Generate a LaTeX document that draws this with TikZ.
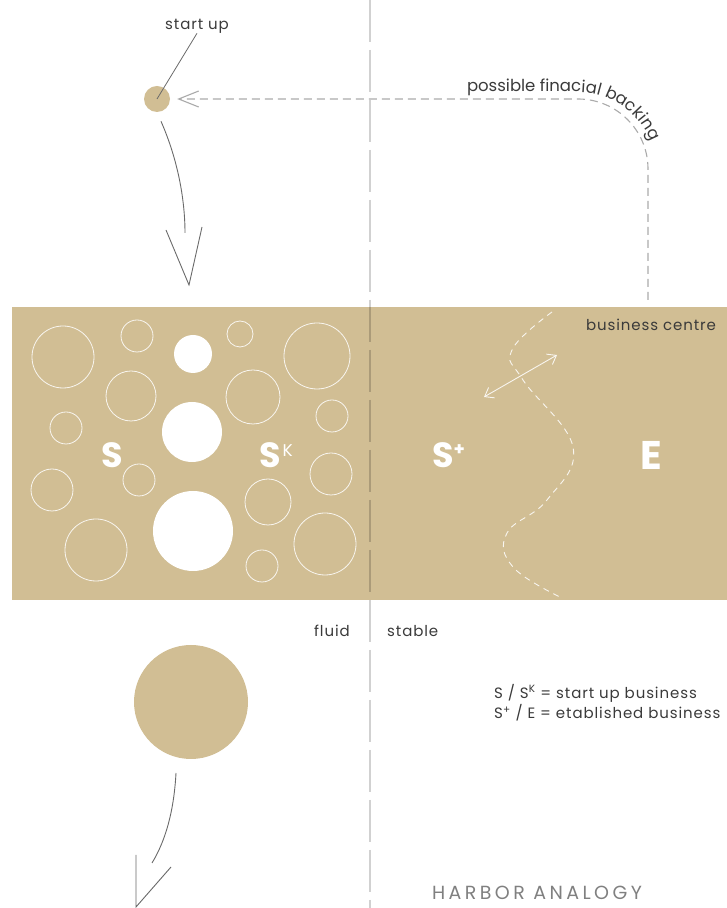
\documentclass[tikz,border=0pt]{standalone}
\usepackage{fontspec}
\setmainfont{Poppins}
\usetikzlibrary{arrows.meta,decorations.text}
\definecolor{tan}{HTML}{D1BE94}
\definecolor{ink}{HTML}{3A3A3A}
\definecolor{dashgray}{HTML}{ABABAB}
\definecolor{arrowgray}{HTML}{6A6A6A}
\begin{document}
\begin{tikzpicture}[x=1pt,y=1pt,
  ring/.style={draw=white,draw opacity=0.85,line width=0.8pt,fill=none},
  blob/.style={fill=white},
  lbl/.style={text=ink,font=\fontsize{15}{17}\selectfont\addfontfeatures{LetterSpace=6},inner sep=0pt},
  big/.style={text=white,font=\fontsize{35}{37}\selectfont\bfseries,inner sep=0pt},
  conn/.style={draw=arrowgray,line width=0.9pt},
  barb/.style={-{Straight Barb[length=20pt,width=16pt,line width=1.1pt]}}]
\useasboundingbox (0,0) rectangle (727,908);
% band
\fill[tan] (12,308) rectangle (727,601);
% rings
\draw[ring] (63,551) circle[radius=31];
\draw[ring] (137,572) circle[radius=16];
\draw[ring] (240,574) circle[radius=13];
\draw[ring] (317,552) circle[radius=33];
\draw[ring] (131,512) circle[radius=25];
\draw[ring] (253,511) circle[radius=27];
\draw[ring] (66,480) circle[radius=16];
\draw[ring] (332,492) circle[radius=16];
\draw[ring] (139,428) circle[radius=16];
\draw[ring] (52,418) circle[radius=21];
\draw[ring] (331,434) circle[radius=21];
\draw[ring] (268,406) circle[radius=23];
\draw[ring] (96,358) circle[radius=31];
\draw[ring] (325,364) circle[radius=31];
\draw[ring] (262,342) circle[radius=16];
% filled
\fill[blob] (193,554) circle[radius=19];
\fill[blob] (192,476) circle[radius=30];
\fill[blob] (193,377) circle[radius=40];
% divider
\draw[black,opacity=0.18,line width=1.3pt,dash pattern=on 42pt off 8pt] (370,908) -- (370,0);
% big letters
\node[big,anchor=base] (s) at (112.5,440) {S};
\node[big,anchor=base west] (sk) at (259,440) {S\hspace{2pt}\raisebox{11pt}{\fontsize{17}{17}\selectfont\mdseries K}};
\node[big,anchor=base west] (sp) at (432,440) {S\raisebox{12pt}{\fontsize{18}{18}\selectfont +}};
\node[big,anchor=base,font=\fontsize{40}{42}\selectfont\bfseries] (e) at (651,438) {E};
\node[lbl] (bc) at (651,583) {business centre};
% wavy boundary
\draw[white,draw opacity=0.85,line width=0.9pt,dash pattern=on 6pt off 5pt]
  plot[smooth,tension=0.7] coordinates {(552,596) (512,558) (523,528) (573,461) (547,408) (507,375) (513,341) (560,311)};
\coordinate (dl) at (484,511);
\coordinate (dr) at (557,553);
\draw[white,draw opacity=0.85,line width=0.9pt,{Straight Barb[length=8pt,width=12pt]}-{Straight Barb[length=8pt,width=12pt]}] (dl) -- (dr);
% start up
\node[circle,fill=tan,minimum size=26pt,inner sep=0pt] (su) at (157,809) {};
\node[lbl] (sul) at (197,882) {start up};
\draw[conn,line width=0.8pt] (sul.south) -- (su.center);
% financial backing
\coordinate (fb) at (648,608);
\draw[dashgray,line width=1.1pt,dash pattern=on 8pt off 5pt,rounded corners=70pt,barb,shorten >=7pt] (fb) |- (su.east);
\path[decorate,decoration={text along path,text align=left,
  text={|\fontsize{16.5}{18}\selectfont\color{ink}|possible finacial backing}}]
  (467,816) -- (578,816) arc[start angle=90,end angle=0,radius=78];
% top arrow
\coordinate (a1) at (185,675);
\coordinate (t1) at (189,623);
\draw[conn,shorten <=10pt] (su.south) .. controls (178,748) and (185,708) .. (a1);
\draw[conn] (166,678) -- (t1) -- (202,681);
% bottom
\node[circle,fill=tan,minimum size=114pt,inner sep=0pt] (bs) at (191,206) {};
\coordinate (b0) at (176,135);
\coordinate (b1) at (152,45);
\coordinate (t2) at (136,1);
\draw[conn] (b0) .. controls (174,98) and (166,68) .. (b1);
\draw[conn] (136,53) -- (t2) -- (171,41);
% labels
\node[lbl,anchor=east] (fl) at (350,277) {fluid};
\node[lbl,anchor=west] (st) at (387,277) {stable};
\node[lbl,anchor=west] (lg1) at (494,215) {S / S\textsuperscript{K} = start up business};
\node[lbl,anchor=west] (lg2) at (494,195) {S\textsuperscript{+} / E = etablished business};
\node[inner sep=0pt,text=black!50,font=\fontsize{19}{21}\selectfont\addfontfeatures{LetterSpace=18}] (ha) at (537,15) {HARBOR ANALOGY};
\end{tikzpicture}
\end{document}
